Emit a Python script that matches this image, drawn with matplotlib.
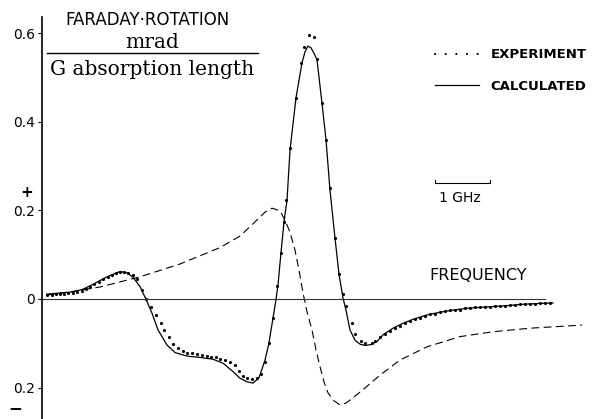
import matplotlib
matplotlib.use("Agg")
import matplotlib.pyplot as plt
from matplotlib.lines import Line2D

# frequency in GHz (relative), rotation in mrad / (G absorption length)
calc_f = [0.091, 0.564, 0.745, 0.927, 1.182, 1.418, 1.545, 1.655, 1.782, 1.891,
          2.0, 2.109, 2.273, 2.418, 2.636, 2.873, 3.109, 3.291, 3.473, 3.6,
          3.727, 3.836, 3.945, 4.055, 4.127, 4.2, 4.255, 4.291, 4.345, 4.4,
          4.455, 4.509, 4.618, 4.727, 4.782, 4.836, 4.891, 4.945, 5.0, 5.091,
          5.164, 5.236, 5.327, 5.4, 5.473, 5.527, 5.6, 5.691, 5.782, 5.873,
          5.982, 6.091, 6.2, 6.382, 6.564, 6.745, 7.0, 7.236, 7.473, 7.727,
          7.964, 8.2, 8.455, 8.745, 9.055, 9.291]
calc_rot = [0.011, 0.016, 0.022, 0.033, 0.050, 0.062, 0.059, 0.049, 0.028, -0.001,
            -0.032, -0.070, -0.104, -0.121, -0.129, -0.132, -0.136, -0.145, -0.164, -0.179,
            -0.187, -0.190, -0.178, -0.138, -0.099, -0.043, -0.001, 0.032, 0.104, 0.174,
            0.223, 0.336, 0.454, 0.533, 0.558, 0.571, 0.567, 0.555, 0.540, 0.442,
            0.359, 0.246, 0.138, 0.056, 0.002, -0.025, -0.070, -0.093, -0.102, -0.105,
            -0.103, -0.096, -0.081, -0.066, -0.055, -0.046, -0.036, -0.030, -0.025, -0.021,
            -0.019, -0.017, -0.015, -0.012, -0.010, -0.009]

dash_f = [0.091, 0.509, 1.055, 1.782, 2.509, 3.236, 3.6, 3.873, 4.055, 4.182,
          4.327, 4.418, 4.509, 4.6, 4.673, 4.745, 4.818, 4.909, 4.982, 5.055,
          5.127, 5.2, 5.309, 5.418, 5.527, 5.655, 5.873, 6.145, 6.509, 7.0,
          7.6, 8.2, 8.873, 9.418, 9.818]
dash_rot = [0.009, 0.016, 0.027, 0.050, 0.079, 0.116, 0.142, 0.174, 0.196, 0.205,
            0.199, 0.178, 0.151, 0.110, 0.065, 0.014, -0.029, -0.070, -0.115, -0.153,
            -0.187, -0.212, -0.230, -0.239, -0.235, -0.223, -0.201, -0.172, -0.138, -0.108,
            -0.085, -0.074, -0.066, -0.062, -0.059]

exp_f = [0.096, 0.176, 0.255, 0.327, 0.4, 0.478, 0.558, 0.642, 0.722, 0.8,
         0.873, 0.951, 1.036, 1.115, 1.195, 1.267, 1.345, 1.418, 1.491, 1.569,
         1.649, 1.722, 1.813, 1.891, 1.982, 2.073, 2.158, 2.224, 2.309, 2.387,
         2.467, 2.558, 2.642, 2.733, 2.813, 2.904, 2.995, 3.067, 3.164, 3.236,
         3.327, 3.418, 3.509, 3.587, 3.66, 3.733, 3.824, 3.915, 3.976, 4.055,
         4.122, 4.205, 4.278, 4.34, 4.405, 4.436, 4.509, 4.618, 4.709, 4.769,
         4.86, 4.945, 5.005, 5.085, 5.164, 5.236, 5.327, 5.4, 5.473, 5.527,
         5.631, 5.691, 5.795, 5.873, 5.995, 6.055, 6.145, 6.236, 6.327, 6.418,
         6.509, 6.6, 6.691, 6.782, 6.873, 6.964, 7.055, 7.145, 7.236, 7.327,
         7.418, 7.509, 7.6, 7.691, 7.782, 7.873, 7.964, 8.055, 8.145, 8.236,
         8.327, 8.418, 8.509, 8.6, 8.691, 8.782, 8.873, 8.964, 9.055, 9.145,
         9.236]
exp_rot = [0.009, 0.010, 0.011, 0.011, 0.012, 0.013, 0.014, 0.016, 0.019, 0.023,
           0.028, 0.033, 0.038, 0.044, 0.049, 0.054, 0.059, 0.061, 0.062, 0.059,
           0.054, 0.044, 0.020, -0.001, -0.019, -0.036, -0.055, -0.070, -0.086, -0.102,
           -0.111, -0.117, -0.121, -0.123, -0.125, -0.127, -0.129, -0.130, -0.132, -0.135,
           -0.138, -0.142, -0.149, -0.162, -0.174, -0.178, -0.181, -0.179, -0.169, -0.142,
           -0.100, -0.044, 0.029, 0.103, 0.174, 0.223, 0.340, 0.453, 0.532, 0.570,
           0.596, 0.591, 0.541, 0.443, 0.360, 0.250, 0.137, 0.056, 0.011, -0.016,
           -0.055, -0.079, -0.096, -0.100, -0.099, -0.096, -0.086, -0.079, -0.072, -0.065,
           -0.061, -0.054, -0.050, -0.046, -0.043, -0.038, -0.035, -0.033, -0.030, -0.028,
           -0.026, -0.025, -0.024, -0.021, -0.020, -0.019, -0.019, -0.018, -0.018, -0.017,
           -0.016, -0.015, -0.014, -0.014, -0.012, -0.012, -0.011, -0.011, -0.010, -0.010,
           -0.009]

yticks = [0.6, 0.4, 0.2, 0.0, -0.2]
ytick_labels = ["0.6", "0.4", "0.2", "0", "0.2"]

fig = plt.figure(figsize=(5.95, 4.19), dpi=100)
ax = fig.add_axes([0, 0, 1, 1])
ax.set_xlim(-0.764, 10.055)
ax.set_ylim(-0.271, 0.675)

# curves
ax.plot(dash_f, dash_rot, color="black", lw=0.8, ls=(0, (7, 4)))
ax.plot(calc_f, calc_rot, color="black", lw=0.9)
ax.plot(exp_f, exp_rot, ls="none", marker="o", ms=1.25, color="black")

# zero line + axis
ax.plot([0, 9.145], [0, 0], color="#333333", lw=0.8)
for s in ["top", "right", "bottom"]:
    ax.spines[s].set_visible(False)
ax.spines["left"].set_position(("data", 0))
ax.spines["left"].set_bounds(-0.271, 0.637)
ax.spines["left"].set_linewidth(1.2)
ax.set_xticks([])
ax.set_yticks(yticks)
ax.set_yticklabels(ytick_labels)
ax.tick_params(axis="y", direction="out", length=3, width=0.8, pad=2, labelsize=10)
ax.text(-0.27, 0.24, "+", fontsize=11, fontweight="bold", ha="center", va="center")
ax.text(-0.49, -0.247, "\u2212", fontsize=12, fontweight="bold", ha="center", va="center")

# y label as fraction
ax.text(0.248, 0.952, "FARADAY\u00b7ROTATION", transform=ax.transAxes,
        ha="center", va="center", fontsize=12)
ax.text(0.2555, 0.898, "mrad", transform=ax.transAxes, ha="center", va="center",
        fontsize=14.5, family="DejaVu Serif")
ax.plot([0.079, 0.434], [0.8735, 0.8735], transform=ax.transAxes, color="black", lw=1.0)
ax.text(0.2555, 0.833, "G absorption length", transform=ax.transAxes,
        ha="center", va="center", fontsize=14.5, family="DejaVu Serif")

# frequency label and 1 GHz scale bar
ax.text(7.05, 0.052, "FREQUENCY", ha="left", va="center", fontsize=11.5)
ax.plot([7.145, 7.145, 8.145, 8.145], [0.269, 0.262, 0.262, 0.269], color="black", lw=0.8)
ax.text(7.6, 0.229, "1 GHz", ha="center", va="center", fontsize=10)

# legend
handles = [Line2D([], [], color="black", lw=1.5, ls=(0, (0.1, 5)), dash_capstyle="round"),
           Line2D([], [], color="black", lw=0.9)]
ax.legend(handles, ["EXPERIMENT", "CALCULATED"], loc="upper right",
          bbox_to_anchor=(1.0, 0.905), frameon=False, handlelength=3.3,
          handletextpad=0.9, labelspacing=1.4, borderaxespad=0.25,
          prop={"weight": "bold", "size": 9.5})

fig.savefig("out.png", dpi=100)
